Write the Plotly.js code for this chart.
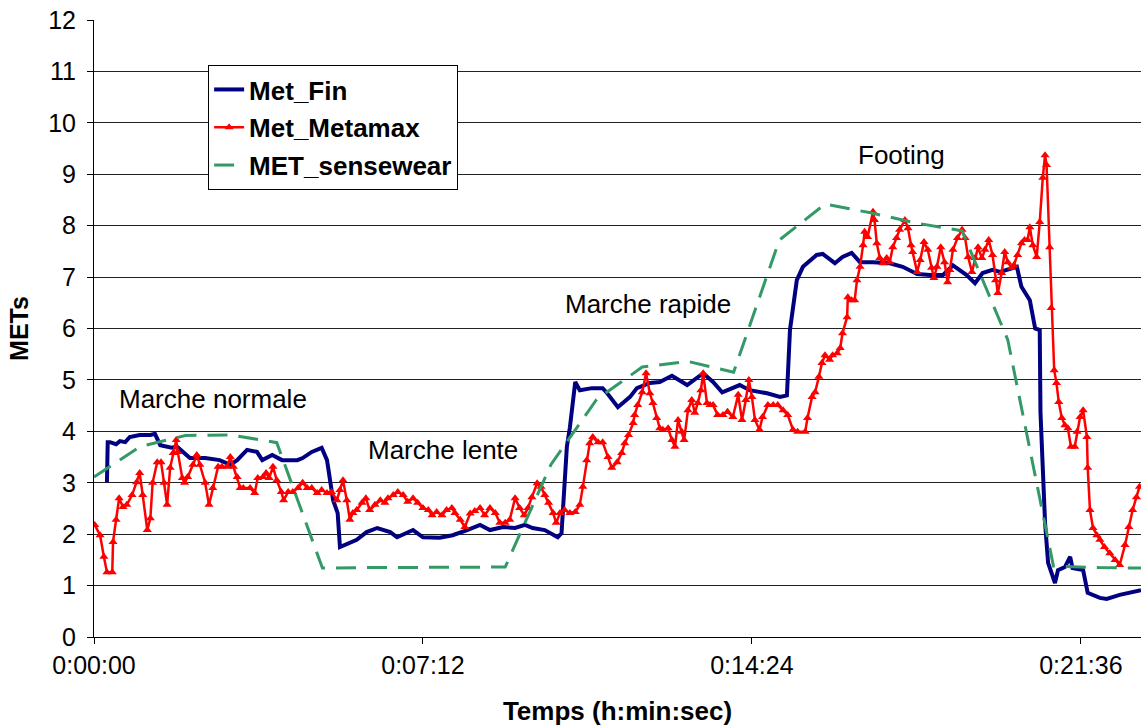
<!DOCTYPE html>
<html>
<head>
<meta charset="utf-8">
<script src="https://cdn.plot.ly/plotly-3.0.1.min.js"></script>
<style>html,body{margin:0;padding:0;background:#fff;}#chart{width:1141px;height:726px;}</style>
</head>
<body>
<div id="chart"></div>
<script>
// Time in seconds since start
var finTime = [17,18,21,29,34,41,47,60,74,80,87,102,109,126,146,165,179,188,201,214,221,234,247,267,274,286,299,306,314,320,323,345,358,372,389,398,419,432,454,471,490,507,520,537,553,566,576,592,609,614,621,625,632,638,654,668,674,688,704,713,730,743,759,779,800,813,825,848,861,884,901,910,914,923,931,949,957,973,983,995,1006,1023,1045,1062,1081,1098,1115,1128,1146,1157,1167,1180,1190,1212,1218,1229,1236,1242,1243,1249,1253,1262,1266,1275,1282,1285,1299,1305,1321,1330,1347,1375];
var finMet = [3.01,3.79,3.79,3.75,3.81,3.79,3.89,3.93,3.93,3.95,3.73,3.68,3.70,3.48,3.48,3.44,3.35,3.44,3.64,3.60,3.44,3.54,3.44,3.44,3.48,3.60,3.68,3.44,2.66,2.41,1.75,1.89,2.04,2.12,2.04,1.94,2.08,1.94,1.93,1.98,2.08,2.18,2.08,2.14,2.12,2.18,2.12,2.08,1.94,2.02,3.70,4.08,4.96,4.80,4.84,4.84,4.74,4.47,4.67,4.84,4.94,4.96,5.08,4.90,5.13,4.96,4.76,4.90,4.80,4.74,4.67,4.70,5.97,6.94,7.20,7.43,7.45,7.27,7.39,7.47,7.29,7.29,7.27,7.20,7.06,7.04,7.04,7.23,7.04,6.88,7.08,7.14,7.10,7.20,6.81,6.55,6.00,5.97,4.36,2.22,1.44,1.05,1.30,1.36,1.56,1.34,1.30,0.86,0.76,0.74,0.82,0.91];

var metamaxTime = [1,8,13,17,24,25,29,33,38,43,50,56,60,64,70,74,77,83,88,92,96,100,104,108,110,116,119,123,130,135,139,146,151,156,163,168,175,179,183,188,192,196,205,211,215,222,226,230,235,240,246,249,255,261,268,274,280,286,293,299,306,312,319,323,327,332,336,340,345,352,357,362,369,376,382,386,393,399,406,412,419,425,432,439,444,450,457,463,470,474,481,487,494,500,507,513,520,527,533,540,546,553,559,565,570,575,582,587,592,597,603,607,612,618,625,632,638,642,647,651,655,662,668,675,680,687,693,697,702,708,710,714,720,725,730,734,739,743,747,754,759,763,767,772,775,780,785,789,793,797,800,805,809,813,819,826,832,839,846,851,856,860,864,868,874,878,885,892,898,905,911,918,924,934,937,943,947,952,956,960,966,970,976,980,983,989,990,995,999,1002,1006,1010,1012,1016,1023,1025,1028,1032,1036,1041,1045,1049,1054,1058,1065,1069,1073,1075,1081,1085,1090,1095,1100,1103,1107,1112,1117,1121,1124,1128,1134,1140,1144,1148,1153,1157,1161,1166,1170,1175,1180,1184,1187,1192,1196,1200,1205,1208,1213,1218,1222,1226,1229,1233,1238,1242,1246,1249,1251,1255,1257,1261,1264,1267,1271,1275,1279,1283,1288,1291,1295,1299,1304,1305,1308,1312,1317,1321,1327,1334,1341,1347,1354,1359,1364,1369,1373];
var metamaxMet = [2.18,1.98,1.56,1.26,1.26,1.85,2.28,2.70,2.53,2.57,2.76,3.01,3.19,2.76,2.08,2.31,3.00,3.40,3.40,3.00,2.57,3.29,3.58,3.83,3.60,3.09,3.00,3.11,3.35,3.54,3.35,3.00,2.57,2.90,3.31,3.31,3.31,3.50,3.31,3.11,2.90,2.90,2.90,2.80,3.09,3.11,3.19,3.09,3.31,3.05,2.82,2.66,2.82,2.82,2.90,3.00,2.90,2.90,2.80,2.86,2.80,2.82,2.66,2.86,3.05,2.66,2.28,2.41,2.47,2.61,2.70,2.47,2.57,2.66,2.61,2.70,2.76,2.82,2.76,2.63,2.70,2.61,2.51,2.47,2.37,2.43,2.37,2.47,2.51,2.41,2.28,2.14,2.40,2.45,2.51,2.37,2.51,2.41,2.22,2.22,2.28,2.70,2.51,2.37,2.51,2.72,2.99,2.92,2.76,2.61,2.41,2.22,2.41,2.47,2.41,2.43,2.57,2.92,3.44,3.77,3.89,3.79,3.79,3.50,3.29,3.40,3.58,3.77,3.93,4.16,4.32,4.51,4.76,5.13,4.74,4.55,4.26,4.06,4.03,4.06,3.83,3.70,4.22,3.99,3.83,4.41,4.61,4.36,4.55,4.80,5.13,4.55,4.51,4.51,4.32,4.32,4.38,4.28,4.71,4.22,4.61,5.00,4.67,4.22,4.03,4.28,4.51,4.51,4.51,4.41,4.32,4.03,3.99,3.99,4.26,4.67,4.76,5.06,5.33,5.48,5.39,5.48,5.52,5.62,5.91,6.22,6.61,6.55,6.55,6.94,7.20,7.62,7.88,7.78,8.27,8.11,7.66,7.37,7.27,7.37,7.29,7.58,7.76,7.92,8.11,7.95,7.62,7.49,7.10,7.33,7.68,7.53,7.18,6.98,7.20,7.58,7.29,6.90,7.14,7.53,7.76,7.92,7.76,7.39,7.10,7.37,7.58,7.37,7.53,7.72,7.43,6.94,6.69,7.08,7.49,7.29,7.18,7.23,7.43,7.66,7.72,7.72,7.97,7.62,7.39,8.07,8.93,9.37,9.18,7.58,6.40,5.19,4.94,4.57,4.26,4.12,4.06,3.70,3.70,3.99,4.28,4.41,3.89,3.29,2.47,2.12,1.98,1.89,1.75,1.63,1.50,1.40,1.79,2.14,2.47,2.72,2.92];

var sensewearTime = [0,60,120,180,240,300,360,420,480,540,600,660,720,780,840,900,960,1020,1080,1140,1200,1260,1320,1380];
var sensewearMet = [3.11,3.70,3.92,3.93,3.78,1.34,1.35,1.35,1.36,1.36,3.35,4.62,5.25,5.36,5.15,7.72,8.42,8.25,8.05,7.90,5.78,1.38,1.35,1.34];

var tickVals = [0,432,864,1296];
var tickText = ['0:00:00','0:07:12','0:14:24','0:21:36'];
var yTicks = [0,1,2,3,4,5,6,7,8,9,10,11,12];

var phaseLabels = ['Marche normale','Marche lente','Marche rapide','Footing'];
var phaseX = [156,458,727,1060];
var phaseY = [4.63,3.64,6.48,9.37];

var FONT = 'Liberation Sans, Arial, sans-serif';

var traces = [
  {x: finTime, y: finMet, name: 'Met_Fin', type: 'scatter', mode: 'lines',
   line: {color: '#000080', width: 4}, legendgroup: 'a'},
  {x: metamaxTime, y: metamaxMet, name: 'Met_Metamax', type: 'scatter', mode: 'lines+markers',
   line: {color: '#FF0000', width: 2.5}, marker: {symbol: 'triangle-up', size: 8, color: '#FF0000'}, legendgroup: 'b'},
  {x: sensewearTime, y: sensewearMet, name: 'MET_sensewear', type: 'scatter', mode: 'lines',
   line: {color: '#339966', width: 3, dash: '20px,11px'}, legendgroup: 'c'}
];

var annotations = phaseLabels.map(function(t, i){
  return {x: phaseX[i], y: phaseY[i], xref: 'x', yref: 'y', text: t, showarrow: false,
          font: {family: FONT, size: 26, color: '#000'}};
});

var layout = {
  width: 1141, height: 726,
  margin: {l: 94, r: 0, t: 20, b: 89},
  paper_bgcolor: '#fff', plot_bgcolor: '#fff',
  showlegend: true,
  legend: {x: 0.109, y: 0.927, xanchor: 'left', yanchor: 'top',
           bgcolor: '#fff', bordercolor: '#000', borderwidth: 1,
           font: {family: FONT, size: 26, color: '#000', weight: 'bold'},
           tracegroupgap: 1},
  xaxis: {range: [0, 1375], tickvals: tickVals, ticktext: tickText,
          showgrid: false, zeroline: false, showline: true, linecolor: '#000', linewidth: 1,
          ticks: 'outside', ticklen: 6, tickcolor: '#000',
          tickfont: {family: FONT, size: 25, color: '#000'},
          title: {text: 'Temps (h:min:sec)', font: {family: FONT, size: 26, color: '#000', weight: 'bold'}, standoff: 24}},
  yaxis: {range: [0, 12], tickvals: yTicks,
          showgrid: true, gridcolor: '#222', gridwidth: 1, zeroline: false,
          showline: true, linecolor: '#000', linewidth: 1,
          ticks: 'outside', ticklen: 6, tickcolor: '#000', ticklabelstandoff: 6,
          tickfont: {family: FONT, size: 25, color: '#000'},
          title: {text: 'METs', font: {family: FONT, size: 25, color: '#000', weight: 'bold'}, standoff: 12}},
  annotations: annotations
};

Plotly.newPlot('chart', traces, layout, {displayModeBar: false, staticPlot: true});
</script>
</body>
</html>
